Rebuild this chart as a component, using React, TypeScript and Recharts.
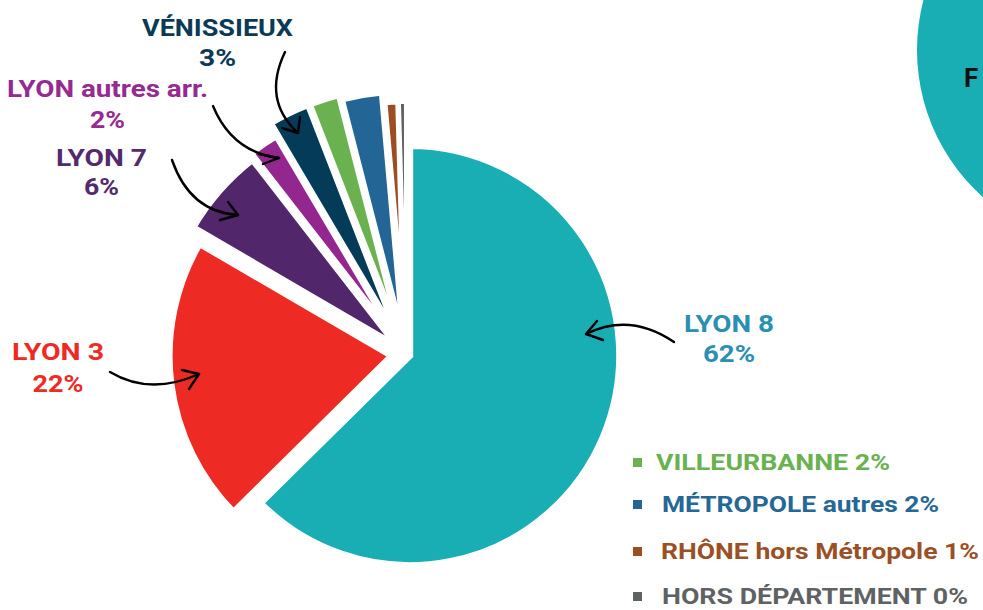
import React from 'react';
import { PieChart, Pie, Cell } from 'recharts';

// ---- data ----
const categories = [
  'LYON 8',
  'LYON 3',
  'LYON 7',
  'LYON autres arr.',
  'VÉNISSIEUX',
  'VILLEURBANNE',
  'MÉTROPOLE autres',
  'RHÔNE hors Métropole',
  'HORS DÉPARTEMENT',
];
const shares = [62.6, 20.8, 6.1, 2.0, 2.6, 1.9, 2.6, 0.95, 0.45];
const percentLabels = ['62%', '22%', '6%', '2%', '3%', '2%', '2%', '1%', '0%'];

// ---- styles ----
const sliceColors = ['#19adb4', '#ee2a25', '#51266b', '#93278f', '#033b58', '#6ab150', '#236696', '#9c4d22', '#5f6264'];
const textColors = ['#2b8fb3', '#ee2a24', '#532a6c', '#952a90', '#0b3a57', '#6ab150', '#256898', '#9b4f25', '#5f6264'];
const explode = [4, 14, 10, 4, 8, 4, 8, 4, 2];
const radii = [210, 223, 238, 250, 260, 264, 255, 249, 250];
const strokeWidths = [7, 7, 7, 7, 7, 7, 7, 7, 4];

const W = 983;
const H = 610;
const CX = 406;
const CY = 354;
const FONT = 'Roboto, "Noto Sans", sans-serif';

const data = categories.map((name, i) => ({ name, value: shares[i] }));
const total = shares.reduce((a, b) => a + b, 0);

function offsetFor(i: number) {
  let before = 0;
  for (let j = 0; j < i; j++) before += shares[j];
  const start = 90 - (360 * before) / total;
  const end = 90 - (360 * (before + shares[i])) / total;
  const mid = ((start + end) / 2) * (Math.PI / 180);
  return { dx: explode[i] * Math.cos(mid), dy: -explode[i] * Math.sin(mid) };
}

// labels with arrows
const calloutIdx = [0, 1, 2, 3, 4];
const calloutPos = [
  { x: 729, y1: 332, y2: 362, w1: 90, w2: 52 },
  { x: 58, y1: 360, y2: 392, w1: 92, w2: 51 },
  { x: 101.5, y1: 166, y2: 195, w1: 91, w2: 35 },
  { x: 107.5, y1: 97, y2: 128, w1: 201, w2: 35 },
  { x: 217.5, y1: 36, y2: 66, w1: 151, w2: 37 },
];
const arrows = [
  { d: 'M674,342 Q630,312 586,334', h: 'M597,321 L586,334 L603,340' },
  { d: 'M110,372 Q150,396 199,374', h: 'M182,370 L199,374 L189,389' },
  { d: 'M172,160 Q190,212 238,215', h: 'M228,202 L238,215 L220,220' },
  { d: 'M213,106 Q232,152 279,158', h: 'M259,154 L279,158 L263,164' },
  { d: 'M285,52 Q262,100 298,133', h: 'M282,128 L298,133 L300,117' },
];
const legendIdx = [5, 6, 7, 8];
const legendBaselines = [470, 512, 559, 604];
const legendX = [656, 662, 661, 662];
const legendWidths = [234, 277, 318, 306];

export default function App() {
  return (
    <div style={{ position: 'absolute', left: 0, top: 0, width: W, height: H, background: '#fff', overflow: 'hidden' }}>
      <PieChart width={W} height={H} margin={{ top: 0, right: 0, bottom: 0, left: 0 }}>
        {/* partial companion circle at top right */}
        <Pie
          data={[{ name: 'F', value: 1 }]}
          dataKey="value"
          cx={1114}
          cy={50}
          outerRadius={197}
          startAngle={90}
          endAngle={-270}
          stroke="none"
          fill="#19adb4"
          isAnimationActive={false}
        />
        {data.map((_, i) => {
          const { dx, dy } = offsetFor(i);
          return (
            <Pie
              key={i}
              data={data}
              dataKey="value"
              nameKey="name"
              cx={CX + dx}
              cy={CY + dy}
              innerRadius={0}
              outerRadius={radii[i]}
              startAngle={90}
              endAngle={-270}
              isAnimationActive={false}
              label={false}
              labelLine={false}
            >
              {data.map((__, j) => (
                <Cell
                  key={j}
                  fill={j === i ? sliceColors[i] : 'none'}
                  stroke={j === i ? '#ffffff' : 'none'}
                  strokeWidth={j === i ? strokeWidths[i] : 0}
                />
              ))}
            </Pie>
          );
        })}
      </PieChart>
      <svg
        width={W}
        height={H}
        style={{ position: 'absolute', left: 0, top: 0, pointerEvents: 'none' }}
      >
        <text x={964} y={87} fontFamily={FONT} fontWeight={700} fontSize={26} fill="#111">F</text>
        {calloutIdx.map((ci, k) => (
          <g key={ci}>
            <text
              x={calloutPos[k].x}
              y={calloutPos[k].y1}
              textAnchor="middle"
              fontFamily={FONT}
              fontWeight={700}
              fontSize={24}
              fill={textColors[ci]}
              textLength={calloutPos[k].w1}
              lengthAdjust="spacingAndGlyphs"
            >
              {categories[ci]}
            </text>
            <text
              x={calloutPos[k].x}
              y={calloutPos[k].y2}
              textAnchor="middle"
              fontFamily={FONT}
              fontWeight={700}
              fontSize={24}
              fill={textColors[ci]}
              textLength={calloutPos[k].w2}
              lengthAdjust="spacingAndGlyphs"
            >
              {percentLabels[ci]}
            </text>
            <path d={arrows[k].d} fill="none" stroke="#000" strokeWidth={2.4} strokeLinecap="round" />
            <path d={arrows[k].h} fill="none" stroke="#000" strokeWidth={2.4} strokeLinecap="round" strokeLinejoin="round" />
          </g>
        ))}
        {legendIdx.map((li, k) => (
          <g key={li}>
            <rect x={633} y={legendBaselines[k] - 12} width={9} height={9} fill={sliceColors[li]} />
            <text
              x={legendX[k]}
              y={legendBaselines[k]}
              fontFamily={FONT}
              fontWeight={700}
              fontSize={22}
              fill={textColors[li]}
              textLength={legendWidths[k]}
              lengthAdjust="spacingAndGlyphs"
            >
              {`${categories[li]} ${percentLabels[li]}`}
            </text>
          </g>
        ))}
      </svg>
    </div>
  );
}
